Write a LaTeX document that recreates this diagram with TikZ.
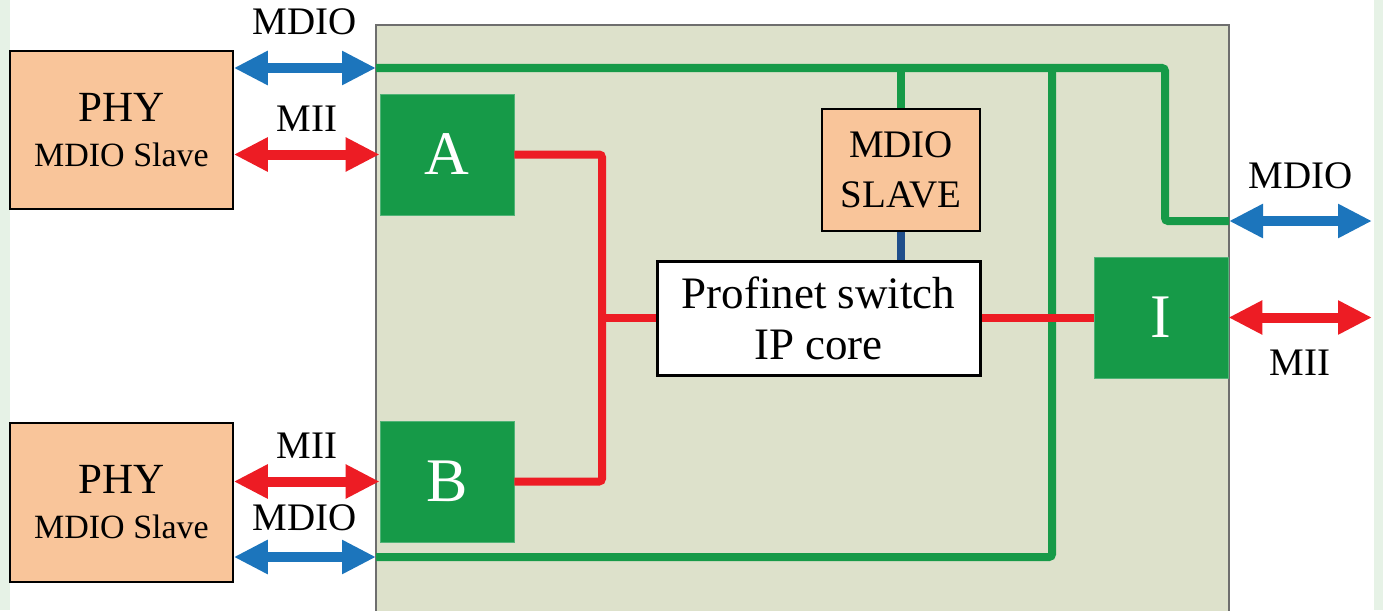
\documentclass[tikz,border=0pt]{standalone}
\usepackage{fontspec}
\setmainfont{Liberation Serif}
\usetikzlibrary{arrows.meta, calc}
\definecolor{cpeach}{HTML}{F9C59A}
\definecolor{cgreen}{HTML}{169A48}
\definecolor{cchip}{HTML}{DDE1CB}
\definecolor{cred}{HTML}{ED1C24}
\definecolor{cblue}{HTML}{1C75BC}
\definecolor{cnavy}{HTML}{1F4E8B}
\definecolor{cedge}{HTML}{E6F2E6}
\definecolor{cgrey}{HTML}{6E6E6E}
\tikzset{
  every picture/.style={line width=1.5pt},
  box/.style={draw=black, fill=#1, align=center, inner sep=0pt},
  box/.default=cpeach,
  port/.style={fill=cgreen, draw=cgreen!75!white, line width=0.8pt, text=white, font=\fontsize{62}{62}\selectfont, minimum width=134pt, minimum height=121pt},
  link/.style={line width=10pt, {Triangle[length=34pt, width=32pt]}-{Triangle[length=34pt, width=32pt]}},
  sig/.style={font=\fontsize{39}{39}\selectfont, text=black, inner sep=0pt},
  bus/.style={draw=cgreen, line width=8pt, rounded corners=3pt},
  mii/.style={draw=cred, line width=8pt, rounded corners=3pt},
}

\begin{document}
\begin{tikzpicture}[x=1pt, y=-1pt]
  \useasboundingbox (0,0) rectangle (1383,610);
  \clip (0,0) rectangle (1383,610);
  % page
  \fill[white] (0,0) rectangle (1383,610);
  \fill[cedge] (0,0) rectangle (10,610);
  \fill[cedge] (1374,0) rectangle (1383,610);
  % chip
  \node[draw=cgrey, fill=cchip, line width=2pt, minimum width=853pt, minimum height=615pt] (chip) at (802.5,332.5) {};
  \coordinate (mdioin) at (376,68);
  \coordinate (mdiob) at (376,557);
  \coordinate (mdior) at (1229,221);
  \coordinate (tap) at (1052,68);
  \coordinate (split) at (602,318);
  \coordinate (miir) at (1372,317.5);
  % blocks
  \node[box, minimum width=223pt, minimum height=158pt, font=\fontsize{43}{45}\selectfont] (phy1) at (121.5,130) {PHY\\{\fontsize{34}{34}\selectfont MDIO Slave}};
  \node[box, minimum width=223pt, minimum height=159pt, font=\fontsize{43}{45}\selectfont] (phy2) at (121.5,502.5) {PHY\\{\fontsize{34}{34}\selectfont MDIO Slave}};
  \node[port] (a) at (447,154.5) {A};
  \node[port] (b) at (447,481.5) {B};
  \node[port] (i) at (1161,317.5) {I};
  \node[box, minimum width=158pt, minimum height=122pt, font=\fontsize{39}{50}\selectfont] (mslave) at (901,170) {MDIO\\SLAVE};
  \node[box=white, line width=3pt, minimum width=323pt, minimum height=114pt, font=\fontsize{45}{51}\selectfont] (sw) at (818.5,318) {Profinet switch\\IP core};
  % MDIO bus
  \draw[bus] (mdioin) -- (tap) -| (mdior -| 1165,0) |- (mdior);
  \draw[bus] (mslave.north) -- (mslave.north |- mdioin);
  \draw[bus] (tap) |- (mdiob);
  \draw[draw=cnavy, line width=8pt] (mslave.south) -- (mslave.south |- sw.north);
  % MII
  \draw[mii] (a.east) -| (split) |- (b.east);
  \draw[mii] (split) -- (split -| sw.west);
  \draw[mii] (split -| sw.east) -- (split -| i.west);
  % external links
  \draw[link, cblue] (mdioin -| phy1.east) -- node[sig, above=28pt] {MDIO} (mdioin);
  \draw[link, cred] (a.west -| phy1.east) -- node[sig, above=18pt] {MII} (a.west);
  \draw[link, cred] (b.west -| phy2.east) -- node[sig, above=18pt] {MII} (b.west);
  \draw[link, cblue] (mdiob -| phy2.east) -- node[sig, above=21pt] {MDIO} (mdiob);
  \draw[link, cblue] (mdior) -- node[sig, above=27pt] {MDIO} (mdior -| miir);
  \draw[link, cred] (i.east) -- node[sig, below=27pt] {MII} (miir);
\end{tikzpicture}
\end{document}
